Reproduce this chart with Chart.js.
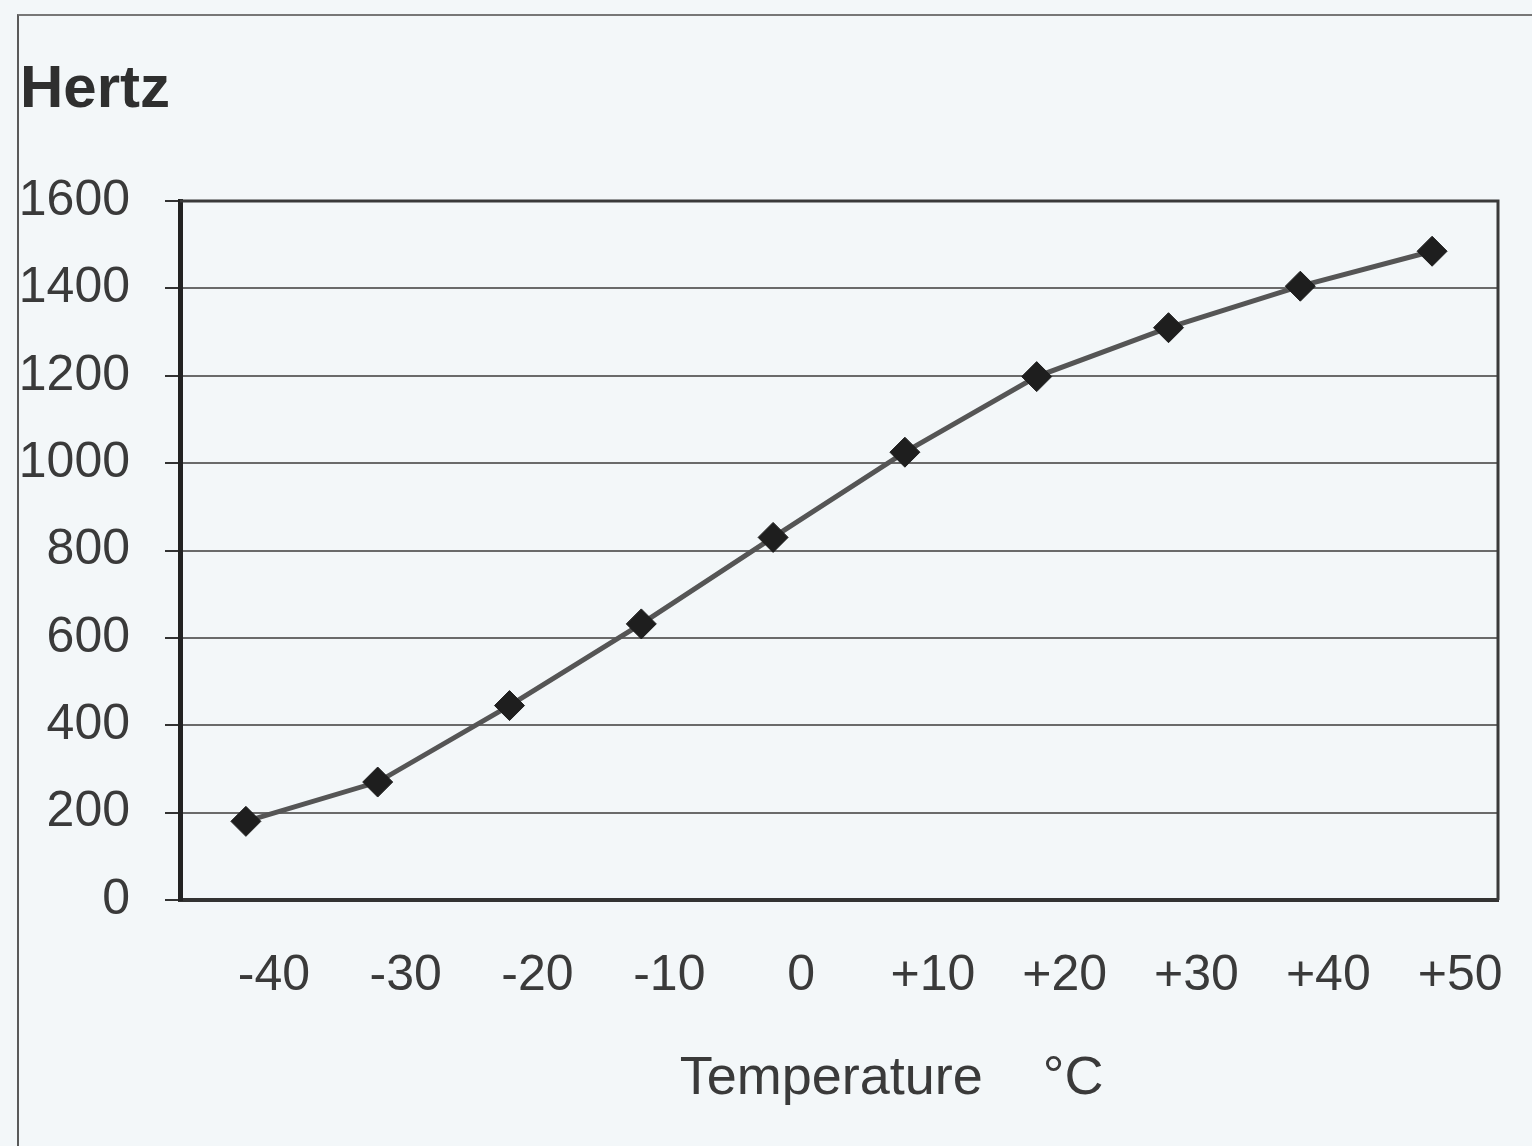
<!DOCTYPE html>
<html>
<head>
  <title>Frequency vs Temperature</title>
  <meta charset="UTF-8">
  <script src="https://cdn.jsdelivr.net/npm/chart.js"></script>
  <style>
    html, body {
      margin: 0;
      padding: 0;
      background-color: #f3f7f9;
      font-family: "Liberation Sans", Arial, sans-serif;
    }
    .frame {
      position: absolute;
      left: 17px;
      top: 14px;
      width: 1540px;
      height: 1160px;
      border-left: 2px solid #5a5a5a;
      border-top: 2px solid #777;
    }
    .chart-box {
      position: absolute;
      left: 0;
      top: 0;
      width: 1532px;
      height: 1146px;
    }
  </style>
</head>
<body>
  <div class="frame"></div>
  <div class="chart-box">
    <canvas id="freqChart" width="1532" height="1146"></canvas>
  </div>

  <script>
    // Temperature steps and measured frequency
    const temperatures = ['-40', '-30', '-20', '-10', '0', '+10', '+20', '+30', '+40', '+50'];
    const hertz = [180, 270, 445, 632, 830, 1025, 1198, 1310, 1405, 1485];
    const yTicks = [0, 200, 400, 600, 800, 1000, 1200, 1400, 1600];

    // Outline the plot area (top and right edges)
    const plotFrame = {
      id: 'plotFrame',
      afterDatasetsDraw(chart) {
        const { ctx, chartArea } = chart;
        ctx.save();
        ctx.strokeStyle = '#3a3a3a';
        ctx.lineWidth = 3;
        ctx.beginPath();
        ctx.moveTo(chartArea.left, chartArea.top);
        ctx.lineTo(chartArea.right, chartArea.top);
        ctx.lineTo(chartArea.right, chartArea.bottom);
        ctx.stroke();
        ctx.restore();
      }
    };

    const ctx = document.getElementById('freqChart').getContext('2d');
    new Chart(ctx, {
      type: 'line',
      data: {
        labels: temperatures,
        datasets: [{
          data: hertz,
          borderColor: '#555',
          borderWidth: 5,
          pointStyle: 'rectRot',
          pointRadius: 15,
          pointBackgroundColor: '#1e1e1e',
          pointBorderColor: '#1e1e1e',
          pointBorderWidth: 1,
          tension: 0
        }]
      },
      options: {
        responsive: false,
        animation: false,
        layout: {
          padding: { left: 20, right: 34, top: 0, bottom: 20 }
        },
        plugins: {
          legend: { display: false },
          tooltip: { enabled: false },
          title: {
            display: true,
            text: 'Hertz',
            align: 'start',
            color: '#2f2f2f',
            font: { family: '"Liberation Sans", Arial', size: 60, weight: 'bold' },
            padding: { top: 54, bottom: 75 }
          }
        },
        scales: {
          x: {
            offset: true,
            grid: { display: false },
            border: { display: true, color: '#333', width: 4 },
            ticks: {
              color: '#3a3a3a',
              font: { family: '"Liberation Sans", Arial', size: 50 },
              padding: 38,
              labelOffset: 28,
              maxRotation: 0,
              autoSkip: false
            },
            title: {
              display: true,
              text: '       Temperature    °C',
              color: '#3a3a3a',
              font: { family: '"Liberation Sans", Arial', size: 54 },
              padding: { top: 14, bottom: 14 }
            },
            afterFit(scale) {
              scale.height = 226;
            }
          },
          y: {
            min: 0,
            max: 1600,
            afterBuildTicks(scale) {
              scale.ticks = yTicks.map(v => ({ value: v }));
            },
            grid: {
              color: '#6a6a6a',
              lineWidth: 2,
              drawTicks: true,
              tickLength: 15,
              tickColor: '#333',
              tickWidth: 2
            },
            border: { display: true, color: '#222', width: 5 },
            ticks: {
              color: '#3a3a3a',
              font: { family: '"Liberation Sans", Arial', size: 50 },
              padding: 35,
              callback: value => String(value)
            },
            afterFit(scale) {
              scale.width = 160;
            }
          }
        }
      },
      plugins: [plotFrame]
    });
  </script>
</body>
</html>
